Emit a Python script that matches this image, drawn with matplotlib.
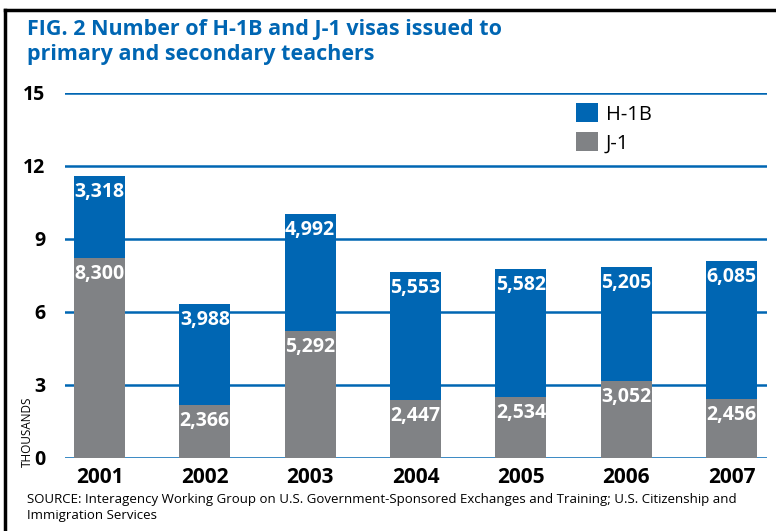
import numpy as np
import matplotlib.pyplot as plt
from matplotlib.lines import Line2D

# data
years = ['2001', '2002', '2003', '2004', '2005', '2006', '2007']
# angka yang tertulis di batang
j1_labels = ['8,300', '2,366', '5,292', '2,447', '2,534', '3,052', '2,456']
h1b_labels = ['3,318', '3,988', '4,992', '5,553', '5,582', '5,205', '6,085']
# tinggi batang (ribuan)
j1 = [8.23, 2.17, 5.21, 2.37, 2.50, 3.16, 2.42]
h1b = [3.36, 4.16, 4.82, 5.26, 5.27, 4.69, 5.67]

blue = '#0066b3'
gray = '#808285'

plt.rcParams['font.family'] = ['Open Sans', 'DejaVu Sans']

fig = plt.figure(figsize=(7.76, 5.31), dpi=100)
ax = fig.add_axes([65 / 776, 1 - 457.7 / 531, 701.7 / 776, 364.7 / 531])

x = np.arange(len(years))
j1 = np.array(j1)
h1b = np.array(h1b)

bars_j = ax.bar(x, j1, width=0.484, color=gray, zorder=3)
bars_h = ax.bar(x, h1b, width=0.484, bottom=j1, color=blue, zorder=3)

# label angka di dalam batang
for i in range(len(years)):
    ax.annotate(j1_labels[i], (x[i], j1[i]), xytext=(0, -11.5), textcoords='offset points',
                ha='center', va='center', color='white', fontsize=14, fontweight='bold', zorder=4)
    ax.annotate(h1b_labels[i], (x[i], j1[i] + h1b[i]), xytext=(0, -11.5), textcoords='offset points',
                ha='center', va='center', color='white', fontsize=14, fontweight='bold', zorder=4)

ax.set_xlim(-0.3275, 6.334)
ax.set_ylim(0, 15)
ax.set_yticks([0, 3, 6, 9, 12, 15])
ax.set_xticks(x)
ax.set_xticklabels(years)
for s in ax.spines.values():
    s.set_visible(False)
ax.tick_params(axis='both', length=0, labelsize=14)
ax.tick_params(axis='y', pad=14)
ax.tick_params(axis='x', pad=7, labelsize=15)
for t in ax.get_xticklabels() + ax.get_yticklabels():
    t.set_fontweight('bold')
ax.yaxis.grid(True, color=blue, linewidth=1.8, zorder=1)
ax.set_axisbelow(True)

# legenda
leg = ax.legend([bars_h, bars_j], ['H-1B', 'J-1'], loc='upper left', bbox_to_anchor=(0.728, 0.9726),
                frameon=False, fontsize=14.5, handlelength=1.1, handleheight=1.1,
                handletextpad=0.4, labelspacing=0.38, borderaxespad=0, borderpad=0)

# judul
fig.text(27 / 776, 1 - 19 / 531, 'FIG. 2 Number of H-1B and J-1 visas issued to\nprimary and secondary teachers',
         color=blue, fontsize=15.5, fontweight='bold', ha='left', va='top', linespacing=1.22)

fig.text(27 / 776, 1 - 432 / 531, 'THOUSANDS', rotation=90, fontsize=8.5, ha='center', va='center')

fig.text(27 / 776, 1 - 493 / 531,
         'SOURCE: Interagency Working Group on U.S. Government-Sponsored Exchanges and Training; U.S. Citizenship and\nImmigration Services',
         fontsize=9.55, ha='left', va='top', linespacing=1.3)

# bingkai
fig.add_artist(Line2D([5 / 776, 5 / 776], [0, 1 - 10 / 531], color='black', linewidth=2.5))
fig.add_artist(Line2D([5 / 776, 1], [1 - 10 / 531, 1 - 10 / 531], color='black', linewidth=2.5))

fig.savefig('out.png', dpi=100)
